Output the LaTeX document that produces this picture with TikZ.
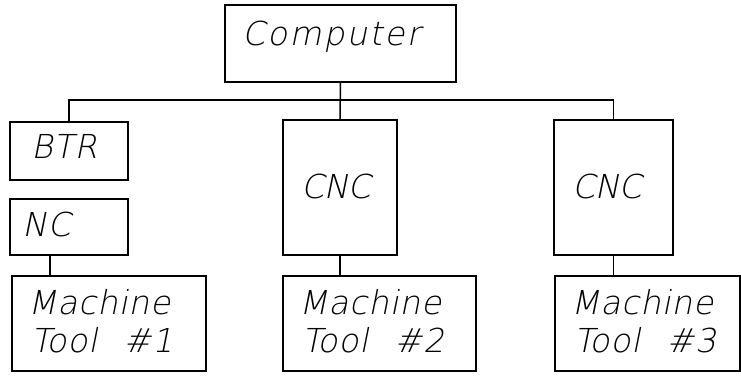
\documentclass[tikz,border=0pt]{standalone}
\usepackage{fontspec}
\setmainfont{DejaVu Sans ExtraLight}[FakeSlant=0.2, LetterSpace=2]
\begin{document}
\begin{tikzpicture}[x=1pt, y=-1pt,
  box/.style={draw, line width=1.6pt, inner sep=0pt, minimum width=#1},
  wire/.style={line width=1.5pt},
  lbl/.style={anchor=base west, inner sep=0pt, font=\fontsize{33}{39}\selectfont}]
\useasboundingbox (0,0) rectangle (741,376);

% boxes
\node[box=231pt, minimum height=77pt]  (comp) at (340.5,43.5) {};
\node[box=118pt, minimum height=58pt]  (btr)  at (69,151)     {};
\node[box=118pt, minimum height=56pt]  (nc)   at (69,227)     {};
\node[box=114pt, minimum height=135pt] (cnc2) at (340,187.5)  {};
\node[box=119pt, minimum height=135pt] (cnc3) at (613.5,187.5){};
\node[box=194pt, minimum height=95pt]  (mt1)  at (109,323.5)  {};
\node[box=193pt, minimum height=95pt]  (mt2)  at (379.5,323.5){};
\node[box=185pt, minimum height=95pt]  (mt3)  at (647.5,323.5){};

% labels
\node[lbl] (comp-t) at (242,45)  {\addfontfeature{LetterSpace=6}Computer};
\node[lbl] (btr-t)  at (31,158)  {BTR};
\node[lbl] (nc-t)   at (22,236)  {NC};
\node[lbl] (cnc2-t) at (301,198) {\addfontfeature{LetterSpace=-2}CNC};
\node[lbl] (cnc3-t) at (572,198) {\addfontfeature{LetterSpace=-2}CNC};
\node[lbl] (mt1-a)  at (28,314)  {Machine};
\node[lbl] (mt1-b)  at (31,352)  {Tool\hspace{0.8em}\#1};
\node[lbl] (mt2-a)  at (299,314) {Machine};
\node[lbl] (mt2-b)  at (302,352) {Tool\hspace{0.8em}\#2};
\node[lbl] (mt3-a)  at (571,314) {Machine};
\node[lbl] (mt3-b)  at (574,352) {Tool\hspace{0.8em}\#3};

% connectors
\coordinate (bus) at (0,100);
\coordinate (tap1) at (50,0);
\draw[wire] (btr.north) -- (btr.north |- bus) -| (cnc3.north);
\draw[wire] (comp.south) -- (cnc2.north);
\draw[wire] (nc.south -| tap1) -- (mt1.north -| tap1);
\draw[wire] (cnc2.south) -- (cnc2.south |- mt2.north);
\draw[wire] (cnc3.south) -- (cnc3.south |- mt3.north);
\end{tikzpicture}
\end{document}
